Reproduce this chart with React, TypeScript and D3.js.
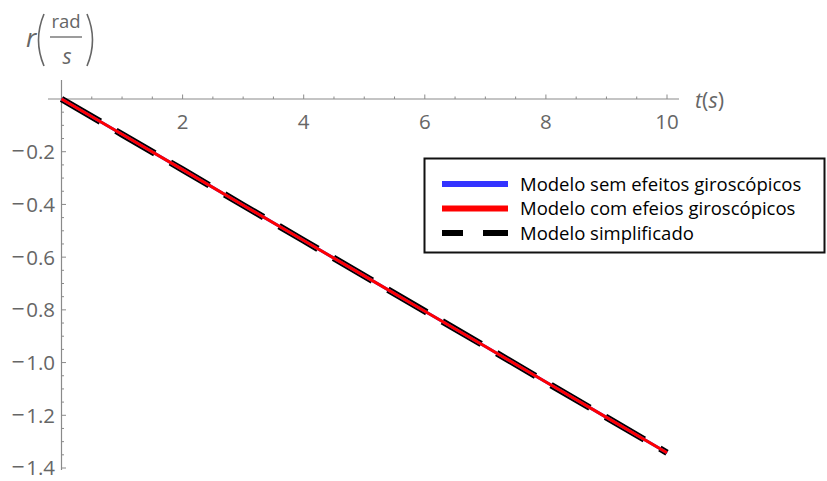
import React from "react";
import * as d3 from "d3";

// Yaw rate r(t) for the three models (rad/s)
const timeS = [0, 1, 2, 3, 4, 5, 6, 7, 8, 9, 10];
const rSemGiro = [0, -0.134, -0.268, -0.403, -0.537, -0.671, -0.805, -0.939, -1.074, -1.208, -1.342];
const rComGiro = [0, -0.134, -0.268, -0.403, -0.537, -0.671, -0.805, -0.939, -1.074, -1.208, -1.342];
const rSimplificado = [0, -0.134, -0.268, -0.403, -0.537, -0.671, -0.805, -0.939, -1.074, -1.208, -1.342];

const xTicks = [2, 4, 6, 8, 10];
const yTicks = [-0.2, -0.4, -0.6, -0.8, -1.0, -1.2, -1.4];
const legendLabels = [
  "Modelo sem efeitos giroscópicos",
  "Modelo com efeios giroscópicos",
  "Modelo simplificado",
];

const W = 827;
const H = 481;
const AXIS = "#8a8a8a";
const LABEL = "#666666";
const FONT = "'Open Sans', sans-serif";

export default function App() {
  const x = d3.scaleLinear().domain([0, 10]).range([61.5, 667]);
  const y = d3.scaleLinear().domain([0, -1.4]).range([99, 468]);

  const line = d3
    .line<number>()
    .x((_, i) => x(timeS[i]))
    .y((d) => y(d));

  const xMinor = d3.range(0.5, 10.01, 0.5).filter((v) => Math.abs(v % 2) > 1e-6);
  const yMinor = d3.range(1, 29).map((k) => -k * 0.05).filter((_, i) => (i + 1) % 4 !== 0);

  const legendRows = [184, 208.5, 233];

  return (
    <svg
      width={W}
      height={H}
      style={{ position: "absolute", left: 0, top: 0, background: "#fff" }}
      fontFamily={FONT}
    >
      {/* axes */}
      <line x1={48} x2={679} y1={y(0)} y2={y(0)} stroke={AXIS} strokeWidth={1.2} />
      <line x1={x(0)} x2={x(0)} y1={80} y2={470} stroke={AXIS} strokeWidth={1.2} />

      {/* x ticks */}
      {xTicks.map((t) => (
        <g key={"xt" + t}>
          <line x1={x(t)} x2={x(t)} y1={y(0)} y2={y(0) - 4.5} stroke={AXIS} />
          <text x={x(t)} y={128.5} textAnchor="middle" fontSize={20.5} fill={LABEL}>
            {t}
          </text>
        </g>
      ))}
      {xMinor.map((t) => (
        <line key={"xm" + t} x1={x(t)} x2={x(t)} y1={y(0)} y2={y(0) - 2.5} stroke={AXIS} />
      ))}

      {/* y ticks */}
      {yTicks.map((v) => (
        <g key={"yt" + v}>
          <line x1={x(0)} x2={x(0) + 4.5} y1={y(v)} y2={y(v)} stroke={AXIS} />
          <text x={55} y={y(v)} dy="0.36em" textAnchor="end" fontSize={20.5} fill={LABEL}>
            <tspan fontSize={23}>{"\u2212"}</tspan>
            <tspan dx={1.5}>{Math.abs(v).toFixed(1)}</tspan>
          </text>
        </g>
      ))}
      {yMinor.map((v) => (
        <line key={"ym" + v} x1={x(0)} x2={x(0) + 2.5} y1={y(v)} y2={y(v)} stroke={AXIS} />
      ))}

      {/* axis labels */}
      <g fill={LABEL}>
        <text x={26} y={47} fontSize={26} fontStyle="italic">r</text>
        <path d="M44,14 Q33,40 44,66" fill="none" stroke={LABEL} strokeWidth={1.6} />
        <path d="M87,14 Q98,40 87,66" fill="none" stroke={LABEL} strokeWidth={1.6} />
        <text x={66} y={27.5} fontSize={18.5} textAnchor="middle">rad</text>
        <line x1={50} x2={82} y1={37} y2={37} stroke={LABEL} strokeWidth={1.3} />
        <text x={67} y={63.5} fontSize={21} fontStyle="italic" textAnchor="middle">s</text>

        <text x={695} y={108} fontSize={21.5}>
          <tspan fontStyle="italic">t</tspan>
          <tspan>(</tspan>
          <tspan fontStyle="italic">s</tspan>
          <tspan>)</tspan>
        </text>
      </g>

      {/* series */}
      <path
        d={line(rSimplificado) || ""}
        fill="none"
        stroke="#000"
        strokeWidth={6.5}
        strokeDasharray="45 18"
      />
      <path d={line(rSemGiro) || ""} fill="none" stroke="#3333ff" strokeWidth={3} />
      <path d={line(rComGiro) || ""} fill="none" stroke="#ff0000" strokeWidth={3} />

      {/* legend */}
      <rect x={424.5} y={158.5} width={400} height={94} fill="#fff" stroke="#111" strokeWidth={2} />
      <line x1={442} x2={508} y1={legendRows[0]} y2={legendRows[0]} stroke="#3333ff" strokeWidth={6} />
      <line x1={442} x2={508} y1={legendRows[1]} y2={legendRows[1]} stroke="#ff0000" strokeWidth={6} />
      <line
        x1={442}
        x2={508}
        y1={legendRows[2]}
        y2={legendRows[2]}
        stroke="#000"
        strokeWidth={6}
        strokeDasharray="21 20 25"
      />
      {legendLabels.map((s, i) => (
        <text key={s} x={520} y={legendRows[i]} dy="0.36em" fontSize={18.5} fill="#000">
          {s}
        </text>
      ))}
    </svg>
  );
}
